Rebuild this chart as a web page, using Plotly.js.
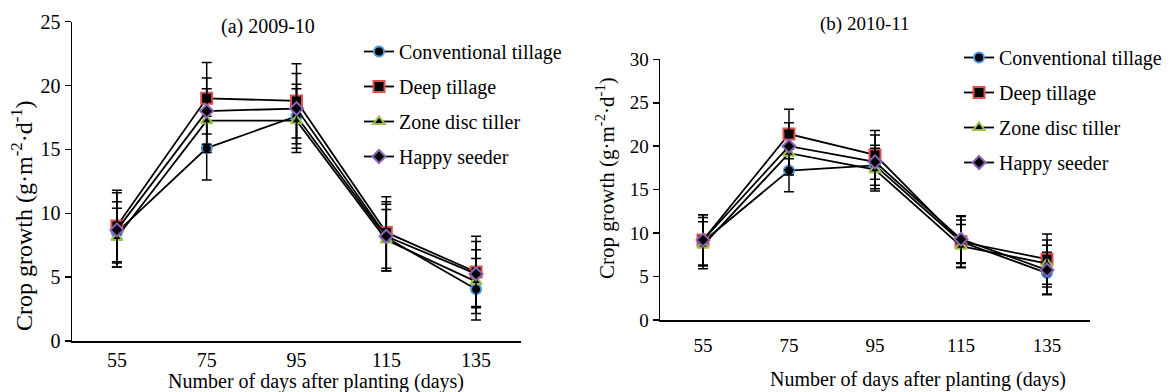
<!DOCTYPE html>
<html>
<head>
<meta charset="utf-8">
<script src="https://cdn.plot.ly/plotly-3.0.1.min.js"></script>
<style>html,body{margin:0;padding:0;background:#fff;}#chart{width:1169px;height:392px;}</style>
</head>
<body>
<div id="chart"></div>
<script>
// ---- data ----
var days = ['55', '75', '95', '115', '135'];
var seriesNames = ['Conventional tillage', 'Deep tillage', 'Zone disc tiller', 'Happy seeder'];

// (a) 2009-10
var convA = [8.5, 15.1, 17.6, 8.1, 4.05];
var convAErr = [2.4, 2.5, 2.5, 2.6, 2.4];
var deepA = [9.0, 19.0, 18.8, 8.5, 5.4];
var deepAErr = [2.8, 2.8, 2.9, 2.8, 2.8];
var zoneA = [8.1, 17.25, 17.25, 7.9, 4.65];
var zoneAErr = [2.3, 2.5, 2.5, 2.4, 2.5];
var happyA = [8.7, 18.0, 18.2, 8.2, 5.25];
var happyAErr = [2.9, 2.6, 2.75, 2.7, 2.55];

// (b) 2010-11
var convB = [9.0, 17.2, 17.8, 9.0, 5.4];
var convBErr = [2.8, 2.45, 2.3, 2.5, 2.4];
var deepB = [9.2, 21.4, 19.0, 9.0, 7.0];
var deepBErr = [2.9, 2.85, 2.8, 2.9, 2.9];
var zoneB = [8.6, 19.2, 17.3, 8.5, 6.5];
var zoneBErr = [2.7, 2.5, 2.45, 2.5, 2.7];
var happyB = [9.2, 20.0, 18.2, 9.3, 5.75];
var happyBErr = [2.9, 2.7, 3.1, 2.7, 2.85];

var panelTitles = ['(a) 2009-10', '(b) 2010-11'];
var xTitle = 'Number of days after planting (days)';
var yTitle = 'Crop growth (g·m<sup>-2</sup>·d<sup>-1</sup>)';

// ---- styles ----
var symbols = ['circle', 'square', 'triangle-up', 'diamond'];
var outline = ['#4A98E0', '#E0504D', '#9BC24F', '#8A63B8'];
var sizes = [10, 11, 10, 10];
var FONT = 'Liberation Serif';

function mk(y, err, i, xa, ya, leg, grp) {
  return {
    type: 'scatter', mode: 'lines+markers',
    x: days, y: y, name: seriesNames[i],
    xaxis: xa, yaxis: ya, legend: leg, legendgroup: grp + i,
    line: {color: 'black', width: 1.8},
    marker: {symbol: symbols[i], size: sizes[i], color: 'black', line: {color: outline[i], width: 2}},
    error_y: {type: 'data', array: err, visible: true, color: 'black', thickness: 1.5, width: 5}
  };
}

var A = [[convA, convAErr], [deepA, deepAErr], [zoneA, zoneAErr], [happyA, happyAErr]];
var B = [[convB, convBErr], [deepB, deepBErr], [zoneB, zoneBErr], [happyB, happyBErr]];
var traces = [];
A.forEach(function (d, i) { traces.push(mk(d[0], d[1], i, 'x', 'y', 'legend', 'a')); });
B.forEach(function (d, i) { traces.push(mk(d[0], d[1], i, 'x2', 'y2', 'legend2', 'b')); });

var W = 1169, H = 392;
function px(v) { return v / W; }
function py(v) { return 1 - v / H; }

function xax(dom, anchor, size, standoff) {
  return {domain: dom, anchor: anchor, type: 'category', range: [-0.5, 4.5],
    showline: true, linecolor: 'black', linewidth: 1.5, ticks: '', showgrid: false, zeroline: false,
    tickfont: {size: size, family: FONT, color: 'black'}, ticklabelstandoff: standoff, fixedrange: true};
}
function yax(dom, anchor, rng, size) {
  return {domain: dom, anchor: anchor, range: rng, dtick: 5, tick0: 0,
    showline: true, linecolor: 'black', linewidth: 1.5, ticks: 'outside', ticklen: 6, tickwidth: 1.5, tickcolor: 'black',
    showgrid: false, zeroline: false, tickfont: {size: size, family: FONT, color: 'black'}, fixedrange: true};
}

function legendAt(x, y) {
  return {x: x, y: y, xanchor: 'left', yanchor: 'top', bgcolor: 'rgba(0,0,0,0)', borderwidth: 0,
    font: {size: 20, family: FONT, color: 'black'}, traceorder: 'grouped', tracegroupgap: 6};
}

function ann(text, x, y, size, angle) {
  return {text: text, xref: 'paper', yref: 'paper', x: x, y: y, xanchor: 'center', yanchor: 'middle',
    textangle: angle || 0, showarrow: false, font: {size: size, family: FONT, color: 'black'}};
}

var layout = {
  width: W, height: H, margin: {l: 0, r: 0, t: 0, b: 0},
  paper_bgcolor: 'white', plot_bgcolor: 'white',
  font: {family: FONT, color: 'black', size: 20},
  showlegend: true,
  xaxis: xax([px(72), px(521)], 'y', 20, 0),
  yaxis: yax([py(341), py(21.7)], 'x', [0, 25], 20),
  xaxis2: xax([px(660), px(1090)], 'y2', 19, 8),
  yaxis2: yax([py(320), py(59.3)], 'x2', [0, 30], 19),
  legend: legendAt(px(359), py(32)),
  legend2: legendAt(px(959), py(38)),
  annotations: [
    ann(panelTitles[0], px(268), py(27), 20),
    ann(panelTitles[1], px(865), py(24), 19),
    ann(xTitle, px(316), py(381), 20),
    ann(xTitle, px(918), py(379), 20),
    ann(yTitle, px(22), py(216), 24, -90),
    ann(yTitle, px(605), py(178), 21, -90)
  ]
};

Plotly.newPlot('chart', traces, layout, {staticPlot: true, displayModeBar: false});
</script>
</body>
</html>
